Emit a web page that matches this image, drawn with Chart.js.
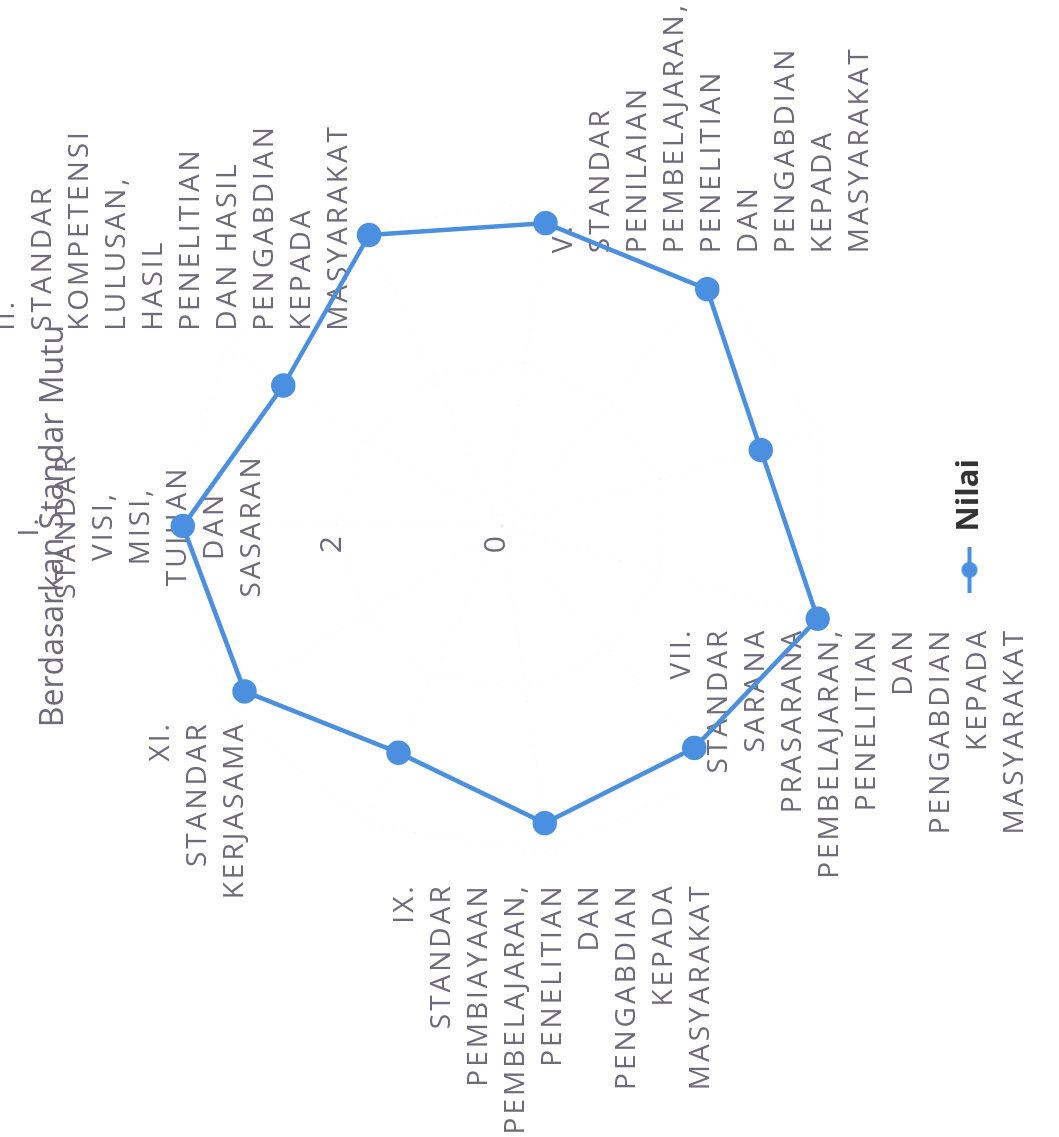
<!DOCTYPE html>
<html>
<head>
<meta charset="utf-8">
<script src="https://cdn.jsdelivr.net/npm/chart.js@4.4.0/dist/chart.umd.min.js"></script>
<style>
  html, body { margin: 0; padding: 0; background: #fff; overflow: hidden; }
  /* the reference picture is the chart turned a quarter turn to the left */
  #wrap {
    position: absolute; left: 0; top: 0;
    width: 1137px; height: 1059px;
    transform-origin: 0 0;
    transform: translateY(1137px) rotate(-90deg);
  }
</style>
</head>
<body>
<div id="wrap"><canvas id="myChart"></canvas></div>
<script>
const categories = [
    ['I.', 'STANDAR', 'VISI,', 'MISI,', 'TUJUAN', 'DAN', 'SASARAN'],
    ['II.', 'STANDAR', 'KOMPETENSI', 'LULUSAN,', 'HASIL', 'PENELITIAN', 'DAN HASIL', 'PENGABDIAN', 'KEPADA', 'MASYARAKAT'],
    ['III.', 'STANDAR', 'ISI', 'PEMBELAJARAN,', 'PENELITIAN', 'DAN', 'PENGABDIAN', 'KEPADA', 'MASYARAKAT'],
    ['IV.', 'STANDAR', 'PROSES', 'PEMBELAJARAN,', 'PENELITIAN', 'DAN', 'PENGABDIAN', 'KEPADA', 'MASYARAKAT'],
    ['V.', 'STANDAR', 'PENILAIAN', 'PEMBELAJARAN,', 'PENELITIAN', 'DAN', 'PENGABDIAN', 'KEPADA', 'MASYARAKAT'],
    ['VI.', 'STANDAR', 'DOSEN DAN', 'TENAGA', 'KEPENDIDIKAN'],
    ['VII.', 'STANDAR', 'SARANA', 'PRASARANA', 'PEMBELAJARAN,', 'PENELITIAN', 'DAN', 'PENGABDIAN', 'KEPADA', 'MASYARAKAT'],
    ['VIII.', 'STANDAR', 'PENGELOLAAN', 'PEMBELAJARAN,', 'PENELITIAN', 'DAN', 'PENGABDIAN', 'KEPADA', 'MASYARAKAT'],
    ['IX.', 'STANDAR', 'PEMBIAYAAN', 'PEMBELAJARAN,', 'PENELITIAN', 'DAN', 'PENGABDIAN', 'KEPADA', 'MASYARAKAT'],
    ['X.', 'STANDAR', 'KEMAHASISWAAN'],
    ['XI.', 'STANDAR', 'KERJASAMA']
];
const nilai = [3.88, 3.16, 3.89, 3.72, 3.81, 3.28, 4.0, 3.57, 3.65, 3.03, 3.72];
const tickValues = [0, 2, 4];
const tickLabels = ['0', '2', ''];
// only these axis labels are visible in the reference, the others were dropped
const shownLabels = [0, 1, 4, 6, 8, 10];

const blue = '#4a8fe0';
const textColor = '#6f6a79';
const lineH = 37;

// legend symbol: short line with a dot on it
const legendIcon = document.createElement('canvas');
legendIcon.width = 46;
legendIcon.height = 18;
const ic = legendIcon.getContext('2d');
ic.strokeStyle = blue;
ic.lineWidth = 4;
ic.beginPath();
ic.moveTo(0, 9);
ic.lineTo(46, 9);
ic.stroke();
ic.fillStyle = blue;
ic.beginPath();
ic.arc(23, 9, 8, 0, Math.PI * 2);
ic.fill();

// axis labels and value labels, placed with the radial scale's own positions
const standarLabels = {
    id: 'standarLabels',
    beforeDatasetsDraw(chart) {
        const r = chart.scales.r;
        const ctx = chart.ctx;
        ctx.save();
        ctx.fillStyle = textColor;

        // value labels sit just left of the first spoke, baseline on the tick
        ctx.font = "30px 'Open Sans'";
        ctx.textAlign = 'right';
        ctx.textBaseline = 'alphabetic';
        tickValues.forEach((v, k) => {
            const p = r.getPointPosition(0, r.getDistanceFromCenterForValue(v));
            ctx.fillText(tickLabels[k], p.x - 10, p.y + 3);
        });

        ctx.font = "28px 'Open Sans'";
        ctx.letterSpacing = '3px';
        ctx.textBaseline = 'middle';
        shownLabels.forEach(i => {
            const lines = categories[i];
            const p = r.getPointPosition(i, r.drawingArea + 32);
            const dx = p.x - r.xCenter;
            ctx.textAlign = Math.abs(dx) < 4 ? 'center' : (dx > 0 ? 'left' : 'right');
            const lift = dx > 4 ? 26 : 0;
            const y0 = p.y - lift - (lines.length - 1) * lineH / 2;
            lines.forEach((t, k) => ctx.fillText(t, p.x, y0 + k * lineH));
        });
        ctx.restore();
    }
};

const ctx = document.getElementById('myChart');

const data = {
    labels: categories,
    datasets: [{
        label: 'Nilai',
        data: nilai,
        borderColor: blue,
        backgroundColor: blue,
        pointBackgroundColor: blue,
        pointBorderColor: blue,
        borderWidth: 4.5,
        pointRadius: 10,
        fill: false
    }]
};

const config = {
    type: 'radar',
    data: data,
    options: {
        responsive: true,
        maintainAspectRatio: false,
        animation: false,
        layout: {
            padding: { left: 85, right: 0, top: 25, bottom: 64 }
        },
        scales: {
            r: {
                min: 0,
                max: 4,
                beginAtZero: true,
                afterBuildTicks: s => { s.ticks = tickValues.map(v => ({ value: v })); },
                ticks: { display: false },
                pointLabels: { display: false },
                grid: { color: 'rgba(0,0,0,0.045)', lineWidth: 1 },
                border: { dash: [2, 9] },
                angleLines: { color: 'rgba(0,0,0,0.045)', borderDash: [2, 9] }
            }
        },
        plugins: {
            title: {
                display: true,
                text: 'Berdasarkan Standar Mutu',
                color: textColor,
                font: { family: 'Open Sans', size: 32, weight: 'normal' },
                padding: { top: 10, bottom: 99 }
            },
            legend: {
                position: 'bottom',
                labels: {
                    usePointStyle: true,
                    pointStyle: legendIcon,
                    pointStyleWidth: 46,
                    padding: 122,
                    color: '#333',
                    font: { family: 'Open Sans', size: 31, weight: 'bold' }
                }
            },
            tooltip: { enabled: false }
        }
    },
    plugins: [standarLabels]
};

const myChart = new Chart(ctx, config);
</script>
</body>
</html>
